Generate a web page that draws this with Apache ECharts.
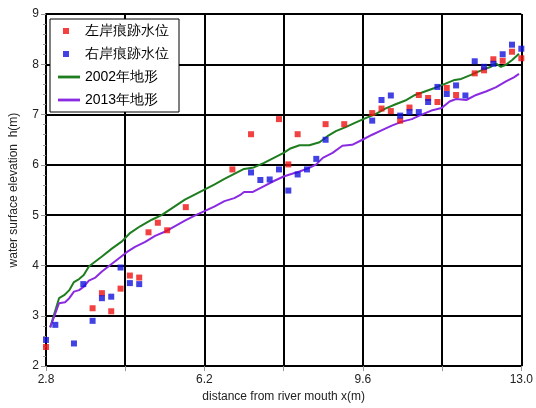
<!DOCTYPE html>
<html><head><meta charset="utf-8">
<script src="https://cdn.jsdelivr.net/npm/echarts@6/dist/echarts.min.js"></script>
<style>html,body{margin:0;padding:0;background:#fff}#c{width:536px;height:408px}</style>
</head><body><div id="c"></div>
<script>
var leftX = [2.8,3.8,4.0,4.2,4.4,4.6,4.8,5.0,5.2,5.4,5.8,6.8,7.2,7.8,8.0,8.2,8.8,9.2,9.8,10.0,10.2,10.4,10.6,10.8,11.0,11.2,11.4,11.6,12.0,12.2,12.4,12.6,12.8,13.0];
var leftY = [2.38,3.15,3.45,3.09,3.54,3.80,3.76,4.66,4.85,4.70,5.16,5.91,6.61,6.91,6.01,6.61,6.81,6.81,7.03,7.12,7.07,6.88,7.14,7.39,7.33,7.25,7.53,7.39,7.82,7.88,8.10,8.07,8.25,8.12];
var rightX = [2.8,3.0,3.4,3.6,3.8,4.0,4.2,4.4,4.6,4.8,7.2,7.4,7.6,7.8,8.0,8.2,8.4,8.6,8.8,9.8,10.0,10.2,10.4,10.6,10.8,11.0,11.2,11.4,11.6,11.8,12.0,12.2,12.4,12.6,12.8,13.0];
var rightY = [2.52,2.82,2.45,3.63,2.90,3.35,3.38,3.96,3.65,3.63,5.85,5.70,5.71,5.91,5.49,5.81,5.91,6.12,6.50,6.88,7.29,7.38,6.98,7.05,7.05,7.25,7.55,7.41,7.58,7.38,8.06,7.95,8.01,8.20,8.39,8.31];
var t2002X = [2.89,3.08,3.19,3.30,3.40,3.51,3.61,3.72,3.83,4.0,4.22,4.43,4.61,4.82,5.07,5.28,5.49,5.78,5.99,6.2,6.41,6.63,6.84,7.05,7.26,7.48,7.69,7.9,8.03,8.24,8.45,8.67,8.84,9.02,9.23,9.44,9.66,9.87,10.08,10.29,10.51,10.72,10.93,11.14,11.36,11.57,11.71,11.92,12.14,12.35,12.45,12.56,12.67,12.81,12.95];
var t2002Y = [2.77,3.35,3.41,3.51,3.67,3.73,3.81,3.98,4.06,4.18,4.34,4.48,4.65,4.78,4.91,5.00,5.13,5.31,5.41,5.51,5.61,5.72,5.82,5.92,5.95,6.04,6.14,6.24,6.32,6.39,6.39,6.45,6.57,6.67,6.75,6.84,6.93,7.01,7.12,7.20,7.28,7.39,7.46,7.53,7.61,7.69,7.71,7.79,7.88,7.95,8.02,7.95,7.99,8.09,8.21];
var t2013X = [2.89,3.08,3.21,3.30,3.40,3.51,3.61,3.72,3.86,4.0,4.18,4.36,4.54,4.71,4.93,5.14,5.35,5.56,5.78,5.99,6.2,6.41,6.63,6.84,6.98,7.05,7.23,7.48,7.69,7.9,8.03,8.24,8.45,8.60,8.74,8.95,9.16,9.37,9.59,9.80,10.01,10.22,10.44,10.65,10.86,11.07,11.29,11.46,11.60,11.82,12.03,12.24,12.45,12.67,12.84,12.95];
var t2013Y = [2.77,3.25,3.27,3.35,3.48,3.51,3.58,3.70,3.76,3.88,4.01,4.14,4.27,4.37,4.47,4.59,4.67,4.78,4.89,4.99,5.08,5.17,5.28,5.34,5.41,5.46,5.46,5.58,5.68,5.77,5.81,5.87,5.94,6.01,6.14,6.24,6.38,6.40,6.50,6.60,6.69,6.78,6.86,6.91,7.00,7.08,7.13,7.26,7.31,7.29,7.39,7.46,7.54,7.66,7.74,7.81];
var xLabels = ['2.8','6.2','9.6','13.0'];
var names = ['左岸痕跡水位','右岸痕跡水位','2002年地形','2013年地形'];

function zip(a,b){return a.map(function(v,i){return [v,b[i]];});}
var sqIcon = 'path://M0,3L0,3M22,3L22,3M5,0L11,0L11,6L5,6Z';
var lnIcon = 'path://M0,0L0,0M22,6L22,6M0,1.6L22,1.6L22,4.4L0,4.4Z';
var font = 'Liberation Sans, Arial, sans-serif';
var chart = echarts.init(document.getElementById('c'));
chart.setOption({
  animation:false,
  grid:{left:40,right:14,top:14,bottom:41,containLabel:false},
  legend:{orient:'vertical',left:50,top:19,padding:[5,10,5,8],itemGap:9,itemWidth:22,itemHeight:6,
    backgroundColor:'#fff',borderColor:'#000',borderWidth:1,
    textStyle:{fontSize:14,color:'#000',fontFamily:font},
    data:[{name:names[0],icon:sqIcon},{name:names[1],icon:sqIcon},{name:names[2],icon:lnIcon},{name:names[3],icon:lnIcon}]},
  xAxis:{type:'value',min:2.8,max:13.0,interval:1.7,
    name:'distance from river mouth x(m)',nameLocation:'middle',nameGap:22,
    nameTextStyle:{fontSize:12,color:'#222',fontFamily:font},
    axisLine:{show:true,lineStyle:{color:'#000',width:2}},
    axisTick:{show:true,length:5,lineStyle:{color:'#999'}},
    axisLabel:{fontSize:12,color:'#222',fontFamily:font,margin:8,showMinLabel:true,showMaxLabel:true,
      formatter:function(v){var s=v.toFixed(1);return xLabels.indexOf(s)>=0?s:'';}},
    splitLine:{show:true,lineStyle:{color:'#000',width:2}}},
  yAxis:{type:'value',min:2,max:9,interval:1,
    name:'water surface elevation  h(m)',nameLocation:'middle',nameGap:26,nameRotate:90,
    nameTextStyle:{fontSize:12,color:'#222',fontFamily:font},
    axisLine:{show:true,lineStyle:{color:'#000',width:2}},
    axisTick:{show:true,length:5,lineStyle:{color:'#999'}},
    minorTick:{show:true,splitNumber:5,length:3,lineStyle:{color:'#999'}},
    axisLabel:{fontSize:12,color:'#222',fontFamily:font,margin:7},
    splitLine:{show:true,lineStyle:{color:'#000',width:2}}},
  series:[
    {name:names[0],type:'scatter',symbol:'rect',symbolSize:6,z:4,itemStyle:{color:'#ee1111'},data:zip(leftX,leftY)},
    {name:names[1],type:'scatter',symbol:'rect',symbolSize:6,z:4,itemStyle:{color:'#1111dd'},data:zip(rightX,rightY)},
    {name:names[2],type:'line',showSymbol:false,symbol:'none',z:3,lineStyle:{color:'#1e7d1e',width:2},itemStyle:{color:'#1e7d1e'},data:zip(t2002X,t2002Y)},
    {name:names[3],type:'line',showSymbol:false,symbol:'none',z:3,lineStyle:{color:'#8a2be2',width:2},itemStyle:{color:'#8a2be2'},data:zip(t2013X,t2013Y)}
  ]
});
</script></body></html>
